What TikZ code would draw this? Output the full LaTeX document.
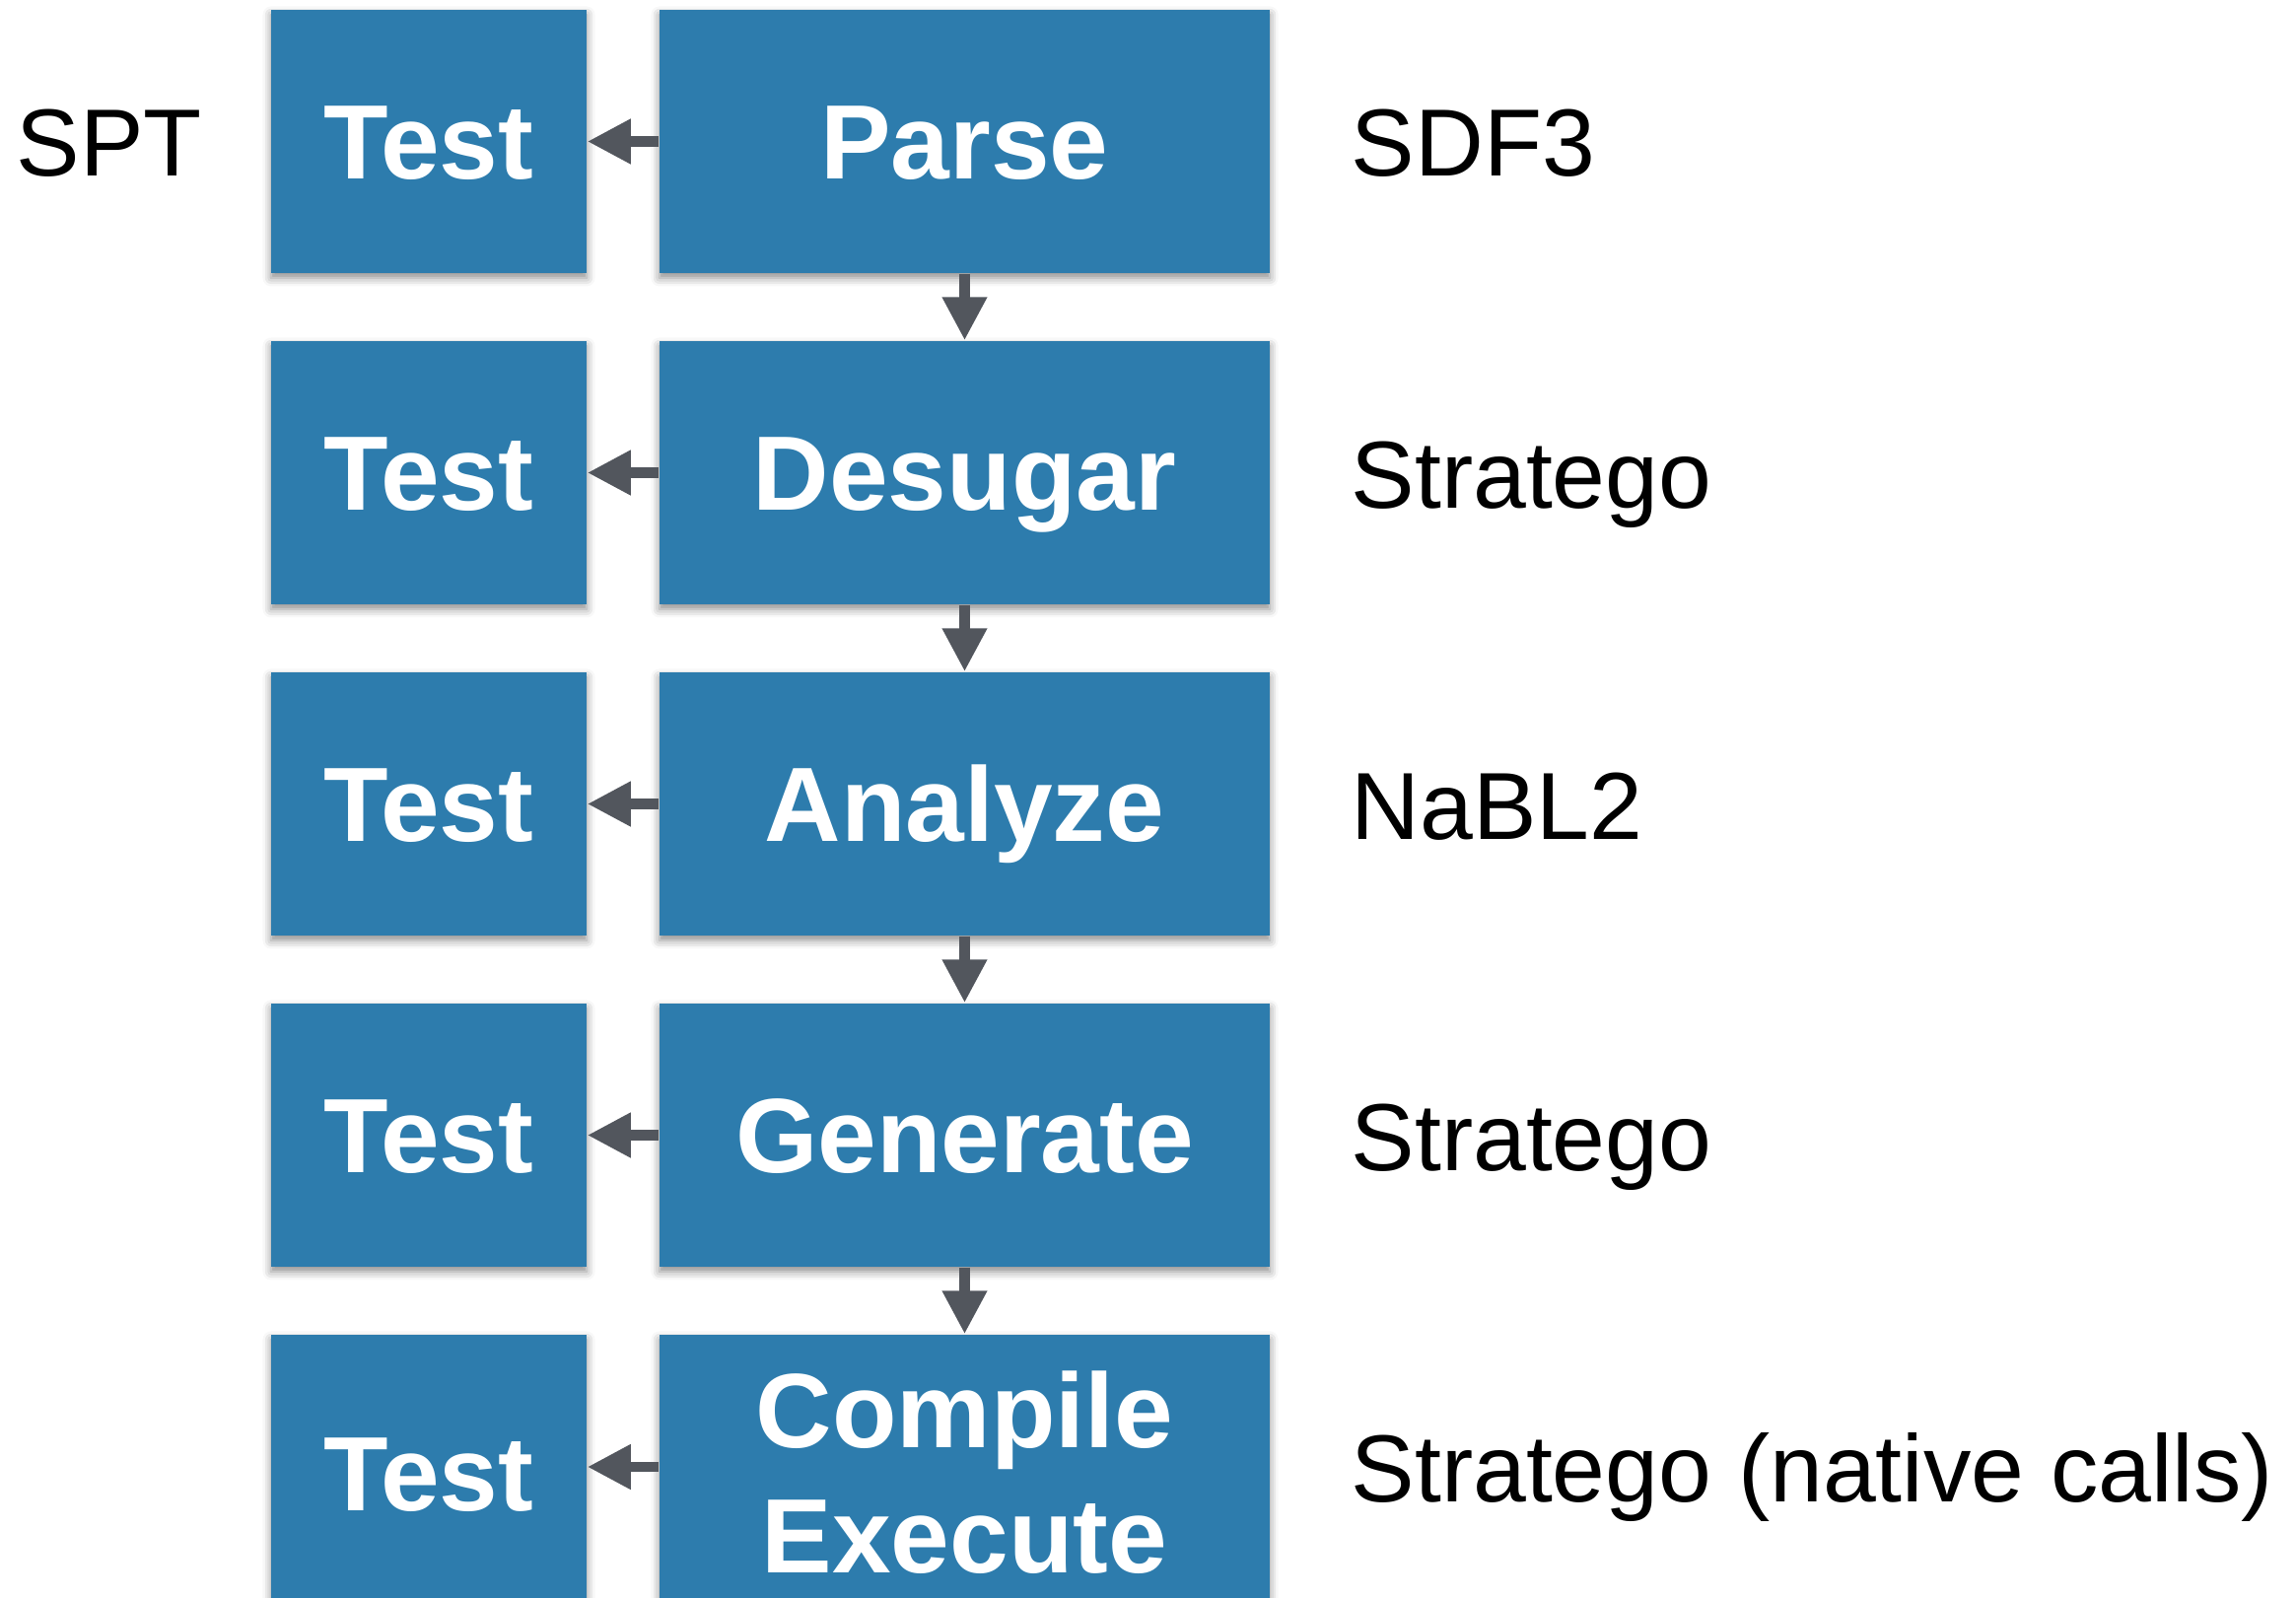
\documentclass[tikz,border=0pt]{standalone}
\usepackage{fontspec}
\setmainfont{Liberation Sans}
\usepackage{tikz}
\usetikzlibrary{calc}
\usetikzlibrary{arrows.meta}
\usetikzlibrary{shadows.blur}
\definecolor{stageblue}{RGB}{45,124,173}
\definecolor{flowgrey}{RGB}{82,86,93}
\tikzset{>={Triangle[length=12.5pt,width=12.2pt]}}
\tikzset{
    stage/.style={rectangle, fill=stageblue, text=white, inner sep=0pt,
        minimum height=2.67cm, font=\fontsize{30.5}{36.1}\selectfont\bfseries,
        text height=21.8pt, text depth=0pt,
        blur shadow={shadow xshift=0pt, shadow yshift=-1.4pt, shadow blur radius=2.4pt, shadow opacity=45}},
    tool/.style={anchor=base west, inner sep=0pt, font=\fontsize{27.5}{33}\selectfont},
    flow/.style={->, line width=3.05pt, draw=flowgrey}
}

\begin{document}
\begin{tikzpicture}[x=0.01cm, y=-0.01cm]
    \def\pitch{336}
    \def\testx{435}
    \def\testw{3.2cm}
    \def\stagex{978.5}
    \def\stagew{6.19cm}
    \def\toolx{1370}

    \useasboundingbox (0,0) rectangle (2329,1621);

    % Stages and their tests
    \foreach \name/\txt [count=\i from 0] in {parse/Parse, desugar/Desugar, analyze/Analyze, generate/Generate} {
        \node[stage, minimum width=\stagew] (\name) at (\stagex, 143.5+\i*\pitch) {\txt};
        \node[stage, minimum width=\testw] (test\name) at (\testx, 143.5+\i*\pitch) {Test};
    }

    % Last stage, cut off by the page
    \node[stage, minimum width=\stagew, minimum height=2.8cm, align=center,
        text height={}, text depth={}] (compile) at (\stagex, 1494) {Compile\\Execute};
    \node[stage, minimum width=\testw, minimum height=2.8cm] (testcompile) at (\testx, 1494) {Test};

    % Arrows
    \foreach \name in {parse, desugar, analyze, generate}
        \draw[flow] (\name.west) -- (test\name.east);
    \draw[flow] (compile.west |- 0,1488) coordinate (cw) -- (testcompile.east |- cw);
    \draw[flow] (parse) -- (desugar);
    \draw[flow] (desugar) -- (analyze);
    \draw[flow] (analyze) -- (generate);
    \draw[flow] (generate) -- (compile.north);

    % Tools
    \node[tool] (spt) at (16, 179) {SPT};
    \foreach \name/\txt [count=\i from 0] in {sdf/SDF3, strdesugar/Stratego, nabl/NaBL2, strgenerate/Stratego, strnative/Stratego (native calls)}
        \node[tool] (\name) at (\toolx, 179+\i*\pitch) {\txt};
\end{tikzpicture}
\end{document}
